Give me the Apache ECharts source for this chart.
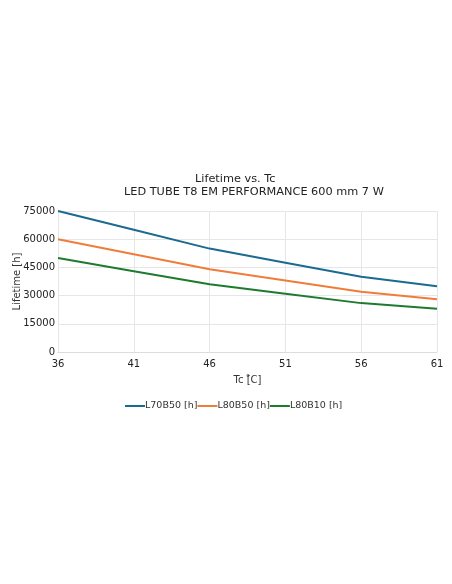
<!DOCTYPE html>
<html>
<head>
<meta charset="utf-8">
<script src="https://cdn.jsdelivr.net/npm/echarts@6/dist/echarts.min.js"></script>
<style>
	html, body { margin: 0; padding: 0; background: #fff; }
	#main { width: 452px; height: 584px; }
</style>
</head>
<body>
<div id="main"></div>
<script>
// Tc [°C] categories
var tc_list = ['36', '41', '46', '51', '56', '61'];
// lifetimes in hours
var l70b50_data = [75000, 65000, 55000, 47500, 40000, 35000];
var l80b50_data = [60000, 52000, 44000, 38000, 32000, 28000];
var l80b10_data = [50000, 43000, 36000, 31000, 26000, 23000];
var series_names = ['L70B50 [h]', 'L80B50 [h]', 'L80B10 [h]'];

var font = 'DejaVu Sans';
var chart = echarts.init(document.getElementById('main'), null, {renderer: 'canvas'});

function makeLine(name, data, color) {
	return {
		name: name,
		type: 'line',
		data: data,
		symbol: 'none',
		smooth: false,
		lineStyle: {color: color, width: 2},
		itemStyle: {color: color}
	};
}

var option = {
	animation: false,
	backgroundColor: '#fff',
	title: [
		{
			text: 'Lifetime vs. Tc',
			left: 190,
			top: 169,
			textStyle: {fontFamily: font, fontSize: 11.3, fontWeight: 'normal', color: '#222'}
		},
		{
			text: 'LED TUBE T8 EM PERFORMANCE 600 mm 7 W',
			left: 119,
			top: 182,
			textStyle: {fontFamily: font, fontSize: 11.3, fontWeight: 'normal', color: '#222'}
		}
	],
	legend: {
		data: series_names,
		top: 396,
		left: 120,
		itemWidth: 20,
		itemHeight: 2,
		itemGap: 0,
		icon: 'rect',
		textStyle: {fontFamily: font, fontSize: 9.5, color: '#333', padding: [0, 0, 0, -5]}
	},
	grid: {
		left: 58,
		right: 15,
		top: 211,
		bottom: 232,
		containLabel: false,
		outerBoundsMode: 'none'
	},
	xAxis: {
		type: 'category',
		data: tc_list,
		boundaryGap: false,
		name: 'Tc [\u030AC]',
		nameLocation: 'middle',
		nameGap: 23,
		nameMoveOverlap: false,
		nameTextStyle: {fontFamily: font, fontSize: 10, color: '#333'},
		axisLine: {show: true, lineStyle: {color: '#dcdcdc'}},
		axisTick: {show: false},
		axisLabel: {fontFamily: font, fontSize: 10, color: '#222', margin: 7},
		splitLine: {show: true, lineStyle: {color: '#e6e6e6'}}
	},
	yAxis: {
		type: 'value',
		min: 0,
		max: 75000,
		interval: 15000,
		name: 'Lifetime [h]',
		nameLocation: 'middle',
		nameGap: 36,
		nameMoveOverlap: false,
		nameTextStyle: {fontFamily: font, fontSize: 10, color: '#333'},
		axisLine: {show: false},
		axisTick: {show: false},
		axisLabel: {
			fontFamily: font, fontSize: 10, color: '#222', margin: 3,
			formatter: function (v) { return String(v); }
		},
		splitLine: {show: true, lineStyle: {color: '#e6e6e6'}}
	},
	series: [
		makeLine(series_names[0], l70b50_data, '#1b6a8f'),
		makeLine(series_names[1], l80b50_data, '#f07c3a'),
		makeLine(series_names[2], l80b10_data, '#1e7a2e')
	]
};
chart.setOption(option);
</script>
</body>
</html>
